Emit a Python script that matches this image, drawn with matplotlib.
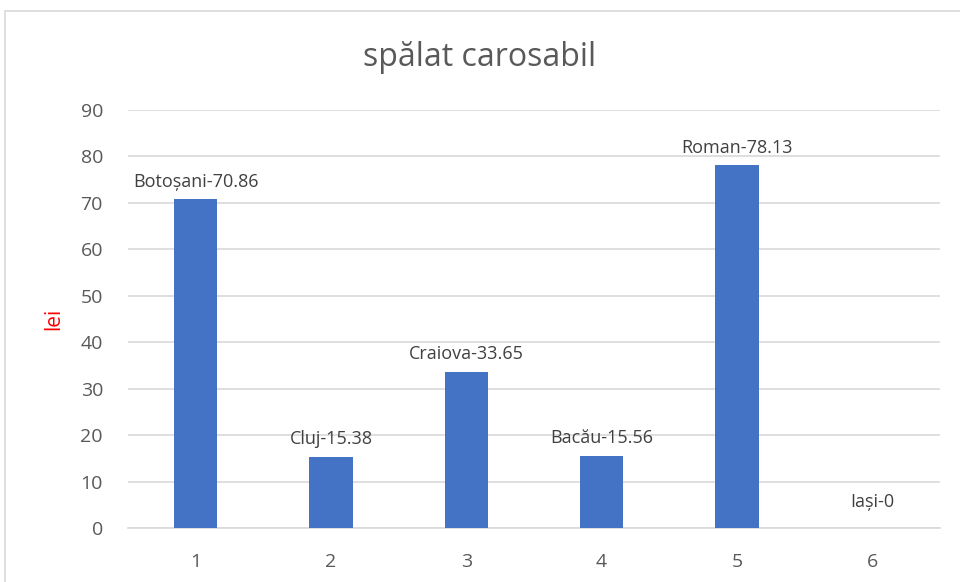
import matplotlib
matplotlib.use("Agg")
import matplotlib.pyplot as plt
from matplotlib.patches import Rectangle

# data
categories = [1, 2, 3, 4, 5, 6]
cities = ["Botoșani", "Cluj", "Craiova", "Bacău", "Roman", "Iași"]
values = [70.86, 15.38, 33.65, 15.56, 78.13, 0]
labels = ["Botoșani-70.86", "Cluj-15.38", "Craiova-33.65", "Bacău-15.56", "Roman-78.13", "Iași-0"]
yticks = [0, 10, 20, 30, 40, 50, 60, 70, 80, 90]

plt.rcParams['font.family'] = ['Open Sans', 'DejaVu Sans']

fig = plt.figure(figsize=(9.6, 5.82), dpi=100)
ax = fig.add_axes([0.1333, 0.0928, 0.8457, 0.7182])

x = list(range(len(categories)))
ax.bar(x, values, width=0.32, color="#4472C4", zorder=3)

for xi, v, lab in zip(x, values, labels):
    # zero-height label sits a bit higher in the original
    off = 12 if v == 0 else 6
    ax.annotate(lab, (xi, v), xytext=(0, off), textcoords="offset points",
                ha="center", va="bottom", fontsize=13, color="#404040")

ax.set_xlim(-0.5, len(categories) - 0.5)
ax.set_ylim(0, 90)
ax.set_yticks(yticks)
ax.set_xticks(x)
ax.set_xticklabels([str(c) for c in categories])
ax.yaxis.grid(True, color="#D9D9D9", linewidth=1.2, zorder=0)
ax.tick_params(axis="both", length=0, labelsize=14, labelcolor="#595959")
ax.tick_params(axis="x", pad=18)
ax.tick_params(axis="y", pad=18)
for s in ["top", "right", "left"]:
    ax.spines[s].set_visible(False)
ax.spines["bottom"].set_color("#D9D9D9")
ax.spines["bottom"].set_linewidth(1.2)

ax.set_ylabel("lei", color="red", fontsize=15, labelpad=12)
fig.text(0.5, 0.902, "spălat carosabil", ha="center", va="center",
         fontsize=23, color="#595959")

# chart border
fig.patches.append(Rectangle((5 / 960, -0.05), 1.0, 1 - 11 / 582 + 0.05,
                             transform=fig.transFigure, fill=False,
                             edgecolor="#D9D9D9", linewidth=1.2))

fig.savefig("out.png", dpi=100)
